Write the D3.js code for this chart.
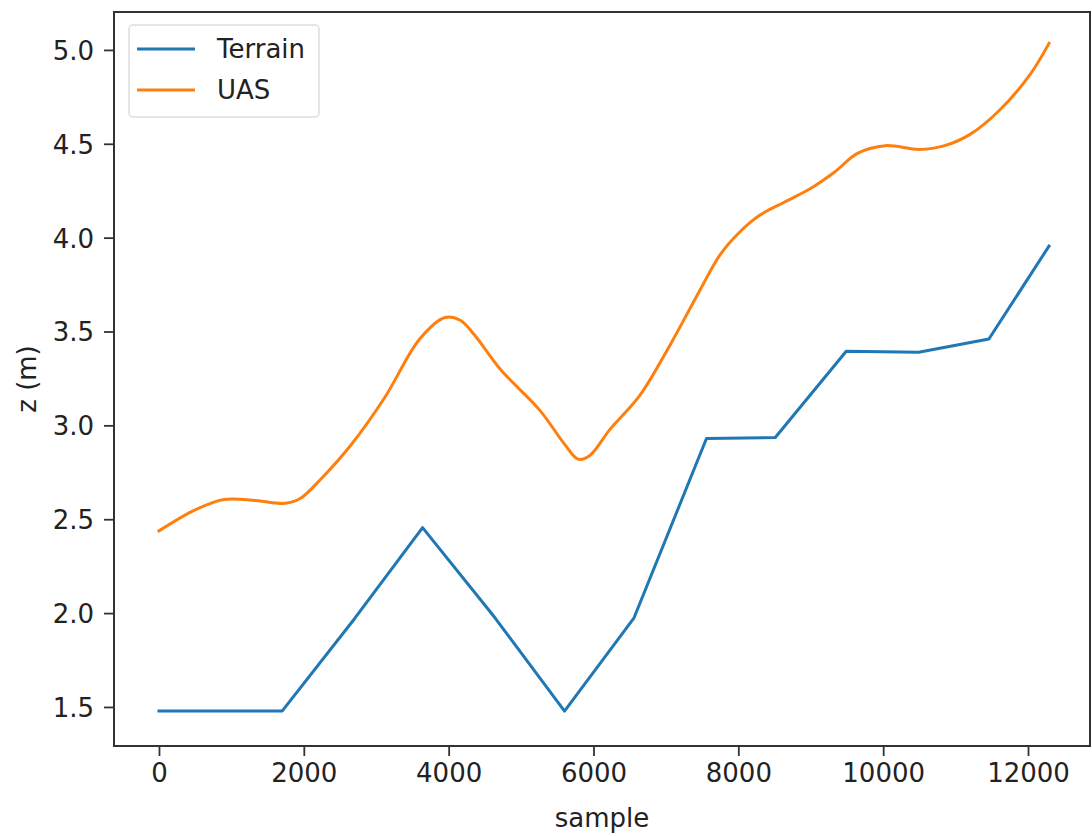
<!DOCTYPE html>
<html>
<head>
<meta charset="utf-8">
<script src="https://cdn.jsdelivr.net/npm/d3@7"></script>
<style>
  html, body { margin: 0; padding: 0; background: #fff; }
  svg { display: block; font-family: "DejaVu Sans", sans-serif; }
</style>
</head>
<body>
<svg id="chart"></svg>
<script>
const terrainX = [0, 1700, 2700, 3640, 4640, 5600, 6560, 7560, 8510, 9490, 10490, 11460, 12290];
const terrainZ = [1.478, 1.478, 1.97, 2.455, 1.975, 1.478, 1.975, 2.93, 2.935, 3.395, 3.39, 3.46, 3.955];

const uasX = [0, 500, 900, 1330, 1740, 1950, 2250, 2640, 3120, 3600, 3950, 4160, 4360, 4710, 5260, 5600, 5790, 5950, 6230, 6640, 7060, 7470, 7750, 8020, 8300, 8640, 8990, 9330, 9650, 10030, 10500, 10850, 11200, 11610, 12030, 12290];
const uasZ = [2.438, 2.55, 2.605, 2.60, 2.585, 2.61, 2.72, 2.89, 3.15, 3.46, 3.575, 3.56, 3.48, 3.30, 3.08, 2.90, 2.82, 2.84, 2.98, 3.16, 3.43, 3.72, 3.91, 4.03, 4.12, 4.19, 4.26, 4.35, 4.45, 4.49, 4.47, 4.49, 4.55, 4.68, 4.87, 5.035];

const xTicks = [0, 2000, 4000, 6000, 8000, 10000, 12000];
const yTicks = [1.5, 2.0, 2.5, 3.0, 3.5, 4.0, 4.5, 5.0];
const seriesNames = ["Terrain", "UAS"];
const seriesColors = ["#1f77b4", "#ff7f0e"];

const width = 1092;
const height = 836;
const margin = {top: 12, right: 2, bottom: 90, left: 114};
const fontSize = 26;

const svg = d3.select("#chart")
    .attr("width", width)
    .attr("height", height);

const x = d3.scaleLinear()
    .domain([-621, 12856])
    .range([margin.left, width - margin.right]);

const y = d3.scaleLinear()
    .domain([1.292, 5.202])
    .range([height - margin.bottom, margin.top]);

const line = d3.line()
    .x(d => x(d[0]))
    .y(d => y(d[1]));

const terrain = terrainX.map((v, i) => [v, terrainZ[i]]);
const uas = uasX.map((v, i) => [v, uasZ[i]]);

const plot = svg.append("g");

plot.append("path")
    .datum(terrain)
    .attr("fill", "none")
    .attr("stroke", seriesColors[0])
    .attr("stroke-width", 3)
    .attr("stroke-linejoin", "round")
    .attr("stroke-linecap", "square")
    .attr("d", line);

plot.append("path")
    .datum(uas)
    .attr("fill", "none")
    .attr("stroke", seriesColors[1])
    .attr("stroke-width", 3)
    .attr("stroke-linejoin", "round")
    .attr("stroke-linecap", "square")
    .attr("d", line.curve(d3.curveCatmullRom.alpha(0.5)));

// axes
const xAxis = svg.append("g")
    .attr("transform", `translate(0,${height - margin.bottom})`)
    .call(d3.axisBottom(x).tickValues(xTicks).tickFormat(d3.format("d")).tickSize(10).tickPadding(8).tickSizeOuter(0));

const yAxis = svg.append("g")
    .attr("transform", `translate(${margin.left},0)`)
    .call(d3.axisLeft(y).tickValues(yTicks).tickFormat(d3.format(".1f")).tickSize(10).tickPadding(10).tickSizeOuter(0));

[xAxis, yAxis].forEach(a => {
    a.select(".domain").remove();
    a.selectAll(".tick line").attr("stroke", "#333").attr("stroke-width", 1.8);
    a.selectAll(".tick text")
        .attr("fill", "#222")
        .style("font-family", "DejaVu Sans, sans-serif")
        .style("font-size", fontSize + "px");
});
yAxis.selectAll(".tick text").attr("dy", "0.36em");

// frame
svg.append("rect")
    .attr("x", margin.left)
    .attr("y", margin.top)
    .attr("width", width - margin.right - margin.left)
    .attr("height", height - margin.bottom - margin.top)
    .attr("fill", "none")
    .attr("stroke", "#333")
    .attr("stroke-width", 2);

// labels
svg.append("text")
    .attr("x", (margin.left + width - margin.right) / 2)
    .attr("y", 827)
    .attr("text-anchor", "middle")
    .attr("fill", "#222")
    .style("font-size", fontSize + "px")
    .text("sample");

svg.append("text")
    .attr("transform", `translate(36,${(margin.top + height - margin.bottom) / 2}) rotate(-90)`)
    .attr("text-anchor", "middle")
    .attr("fill", "#222")
    .style("font-size", fontSize + "px")
    .text("z (m)");

// legend
const legend = svg.append("g");
legend.append("rect")
    .attr("x", 129)
    .attr("y", 25)
    .attr("width", 190)
    .attr("height", 92)
    .attr("rx", 4)
    .attr("fill", "#fff")
    .attr("fill-opacity", 0.8)
    .attr("stroke", "#ddd")
    .attr("stroke-width", 1.5);

seriesNames.forEach((name, i) => {
    const ly = 49 + i * 41;
    legend.append("line")
        .attr("x1", 137).attr("x2", 195)
        .attr("y1", ly).attr("y2", ly)
        .attr("stroke", seriesColors[i])
        .attr("stroke-width", 3);
    legend.append("text")
        .attr("x", 217)
        .attr("y", ly)
        .attr("dy", "0.36em")
        .attr("fill", "#222")
        .style("font-size", fontSize + "px")
        .text(name);
});
</script>
</body>
</html>
